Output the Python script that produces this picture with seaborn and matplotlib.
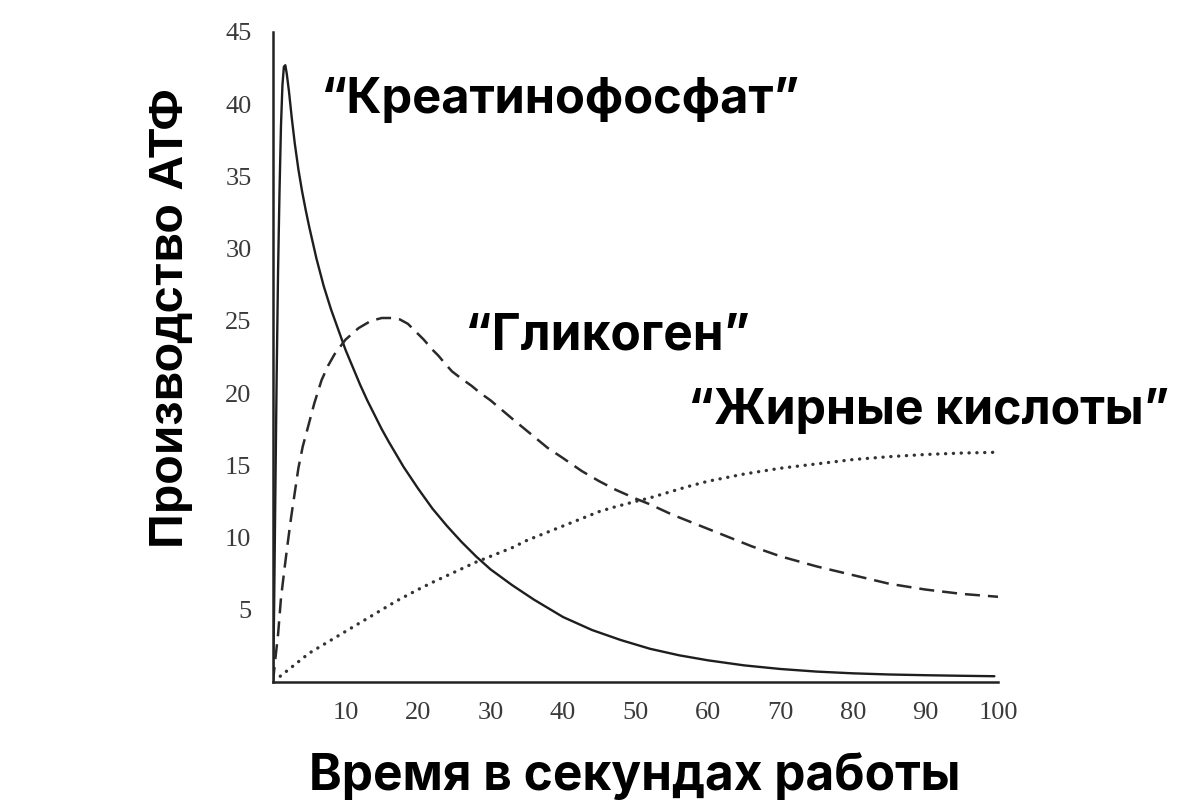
import numpy as np
import pandas as pd
import matplotlib
matplotlib.use("Agg")
import matplotlib.pyplot as plt
import seaborn as sns

# ---- data ----
cp_x = [0, 0.15, 0.3, 0.5, 0.7, 0.9, 1.1, 1.3, 1.5, 1.7, 1.9, 2.2, 2.6, 3.0, 3.5, 4.0, 4.5,
        5.0, 6.0, 7.0, 8.0, 9.0, 10, 11, 12, 13, 14, 15, 16, 18, 20, 22, 24, 26, 28, 30, 33,
        36, 40, 44, 48, 52, 56, 60, 65, 70, 75, 80, 85, 90, 95, 99.5]
cp_y = [0, 5, 12, 21, 28.5, 34, 38.5, 41.3, 42.6, 42.7, 42.1, 40.9, 39.0, 37.3, 35.5, 34.0, 32.7,
        31.5, 29.3, 27.4, 25.8, 24.4, 23.0, 21.8, 20.6, 19.5, 18.5, 17.5, 16.6, 14.9, 13.4, 12.0,
        10.8, 9.7, 8.7, 7.8, 6.7, 5.7, 4.5, 3.6, 2.9, 2.3, 1.85, 1.5, 1.15, 0.9, 0.72, 0.6, 0.52,
        0.47, 0.43, 0.4]

gl_x = [0, 0.3, 0.7, 1.1, 1.6, 2.0, 2.5, 3.0, 3.5, 4.1, 4.8, 5.7, 6.7, 7.6, 8.5, 10, 11.8, 13.5,
        15, 16.5, 17.5, 18.6, 19.6, 20.8, 22, 22.8, 23.8, 24.7, 26, 27.4, 28.6, 30, 33.3, 35,
        37.9, 40, 42.6, 45, 47.3, 50, 52, 55, 57, 60, 63, 66, 70, 75, 80, 85, 90, 95, 100]
gl_y = [0, 1.5, 3.3, 5.8, 7.9, 9.5, 11.4, 13.1, 14.8, 16.3, 17.6, 19.3, 20.9, 21.9, 22.7, 23.7, 24.5, 25.0,
        25.2, 25.2, 25.1, 24.8, 24.3, 23.7, 23.0, 22.6, 22.0, 21.5, 21.0, 20.5, 20.0, 19.5, 18.1, 17.4,
        16.2, 15.5, 14.6, 13.9, 13.3, 12.7, 12.3, 11.6, 11.2, 10.6, 10.0, 9.4, 8.7, 8.0, 7.4, 6.8, 6.4, 6.1, 5.9]

fa_x = [1, 3, 5, 8, 10, 13, 15, 17, 20, 22, 25, 28, 30, 33, 35, 38, 40, 43, 45, 47, 50, 52, 55,
        57, 60, 65, 70, 75, 80, 85, 90, 95, 99.5]
fa_y = [0.4, 1.2, 2.0, 2.9, 3.5, 4.4, 5.0, 5.6, 6.4, 6.9, 7.6, 8.3, 8.7, 9.3, 9.8, 10.4, 10.8, 11.4,
        11.8, 12.1, 12.5, 12.75, 13.2, 13.5, 13.9, 14.4, 14.8, 15.1, 15.4, 15.6, 15.75, 15.85, 15.9]

x_ticks = [10, 20, 30, 40, 50, 60, 70, 80, 90, 100]
y_ticks = [5, 10, 15, 20, 25, 30, 35, 40, 45]

label_cp = "“Креатинофосфат”"
label_gl = "“Гликоген”"
label_fa = "“Жирные кислоты”"
x_title = "Время в секундах работы"
y_title = "Производство АТФ"

# ---- figure ----
sns.set_theme(style="white")
plt.rcParams["font.family"] = ["DejaVu Sans"]

W, H = 1200, 810
fig = plt.figure(figsize=(W / 100, H / 100), dpi=100)
fig.patch.set_facecolor("white")
ax = fig.add_axes([273 / W, 1 - 682 / H, (998 - 273) / W, (682 - 32) / H])
ax.set_facecolor("white")

sns.lineplot(x=cp_x, y=cp_y, ax=ax, color="#1e1e1e", linewidth=1.7, sort=False)
sns.lineplot(x=gl_x, y=gl_y, ax=ax, color="#2a2a2a", linewidth=1.8, sort=False)
sns.lineplot(x=fa_x, y=fa_y, ax=ax, color="#333333", linewidth=2.4, sort=False)
ax.lines[0].set_solid_joinstyle("round")
ax.lines[1].set_linestyle((0, (6, 3.2)))
ax.lines[2].set_linestyle((0, (0.05, 2.3)))
ax.lines[2].set_dash_capstyle("round")

ax.set_xlim(0, 100)
ax.set_ylim(0, 45)
ax.set_xticks(x_ticks)
ax.set_yticks(y_ticks)
ax.set_xticklabels([str(v) for v in x_ticks])
ax.set_yticklabels([str(v) for v in y_ticks])
for sp in ["top", "right"]:
    ax.spines[sp].set_visible(False)
for sp in ["left", "bottom"]:
    ax.spines[sp].set_color("#222222")
    ax.spines[sp].set_linewidth(1.8)
ax.tick_params(axis="both", direction="out", length=7.5, width=1.5, color="#222222",
               labelsize=19, labelcolor="#3a3a3a")
ax.tick_params(axis="y", pad=8)
ax.tick_params(axis="x", pad=7)
for lab in ax.get_xticklabels() + ax.get_yticklabels():
    lab.set_family(["Liberation Serif", "DejaVu Serif"])
ax.grid(False)
ax.set_xlabel("")
ax.set_ylabel("")

renderer = fig.canvas.get_renderer()


def fit_text(xp, yp, s, target, rot=0, **kw):
    t = fig.text(xp / W, 1 - yp / H, s, rotation=rot, **kw)
    bb = t.get_window_extent(renderer)
    size = bb.height if rot == 90 else bb.width
    t.set_fontsize(t.get_fontsize() * target / size)
    return t


head = dict(family=["Inter", "DejaVu Sans"], weight="bold", color="black", fontsize=30)
fit_text(320, 100, label_cp, 480, ha="left", va="center", **head)
fit_text(465, 336, label_gl, 285, ha="left", va="center", **head)
fit_text(688, 411, label_fa, 482, ha="left", va="center", **head)
fit_text(635, 776, x_title, 652, ha="center", va="center", **head)
fit_text(171, 318, y_title, 460, rot=90, ha="center", va="center",
         family=["Liberation Sans", "DejaVu Sans"], weight="bold", color="black", fontsize=32)

fig.savefig("out.png", dpi=100, facecolor="white")
